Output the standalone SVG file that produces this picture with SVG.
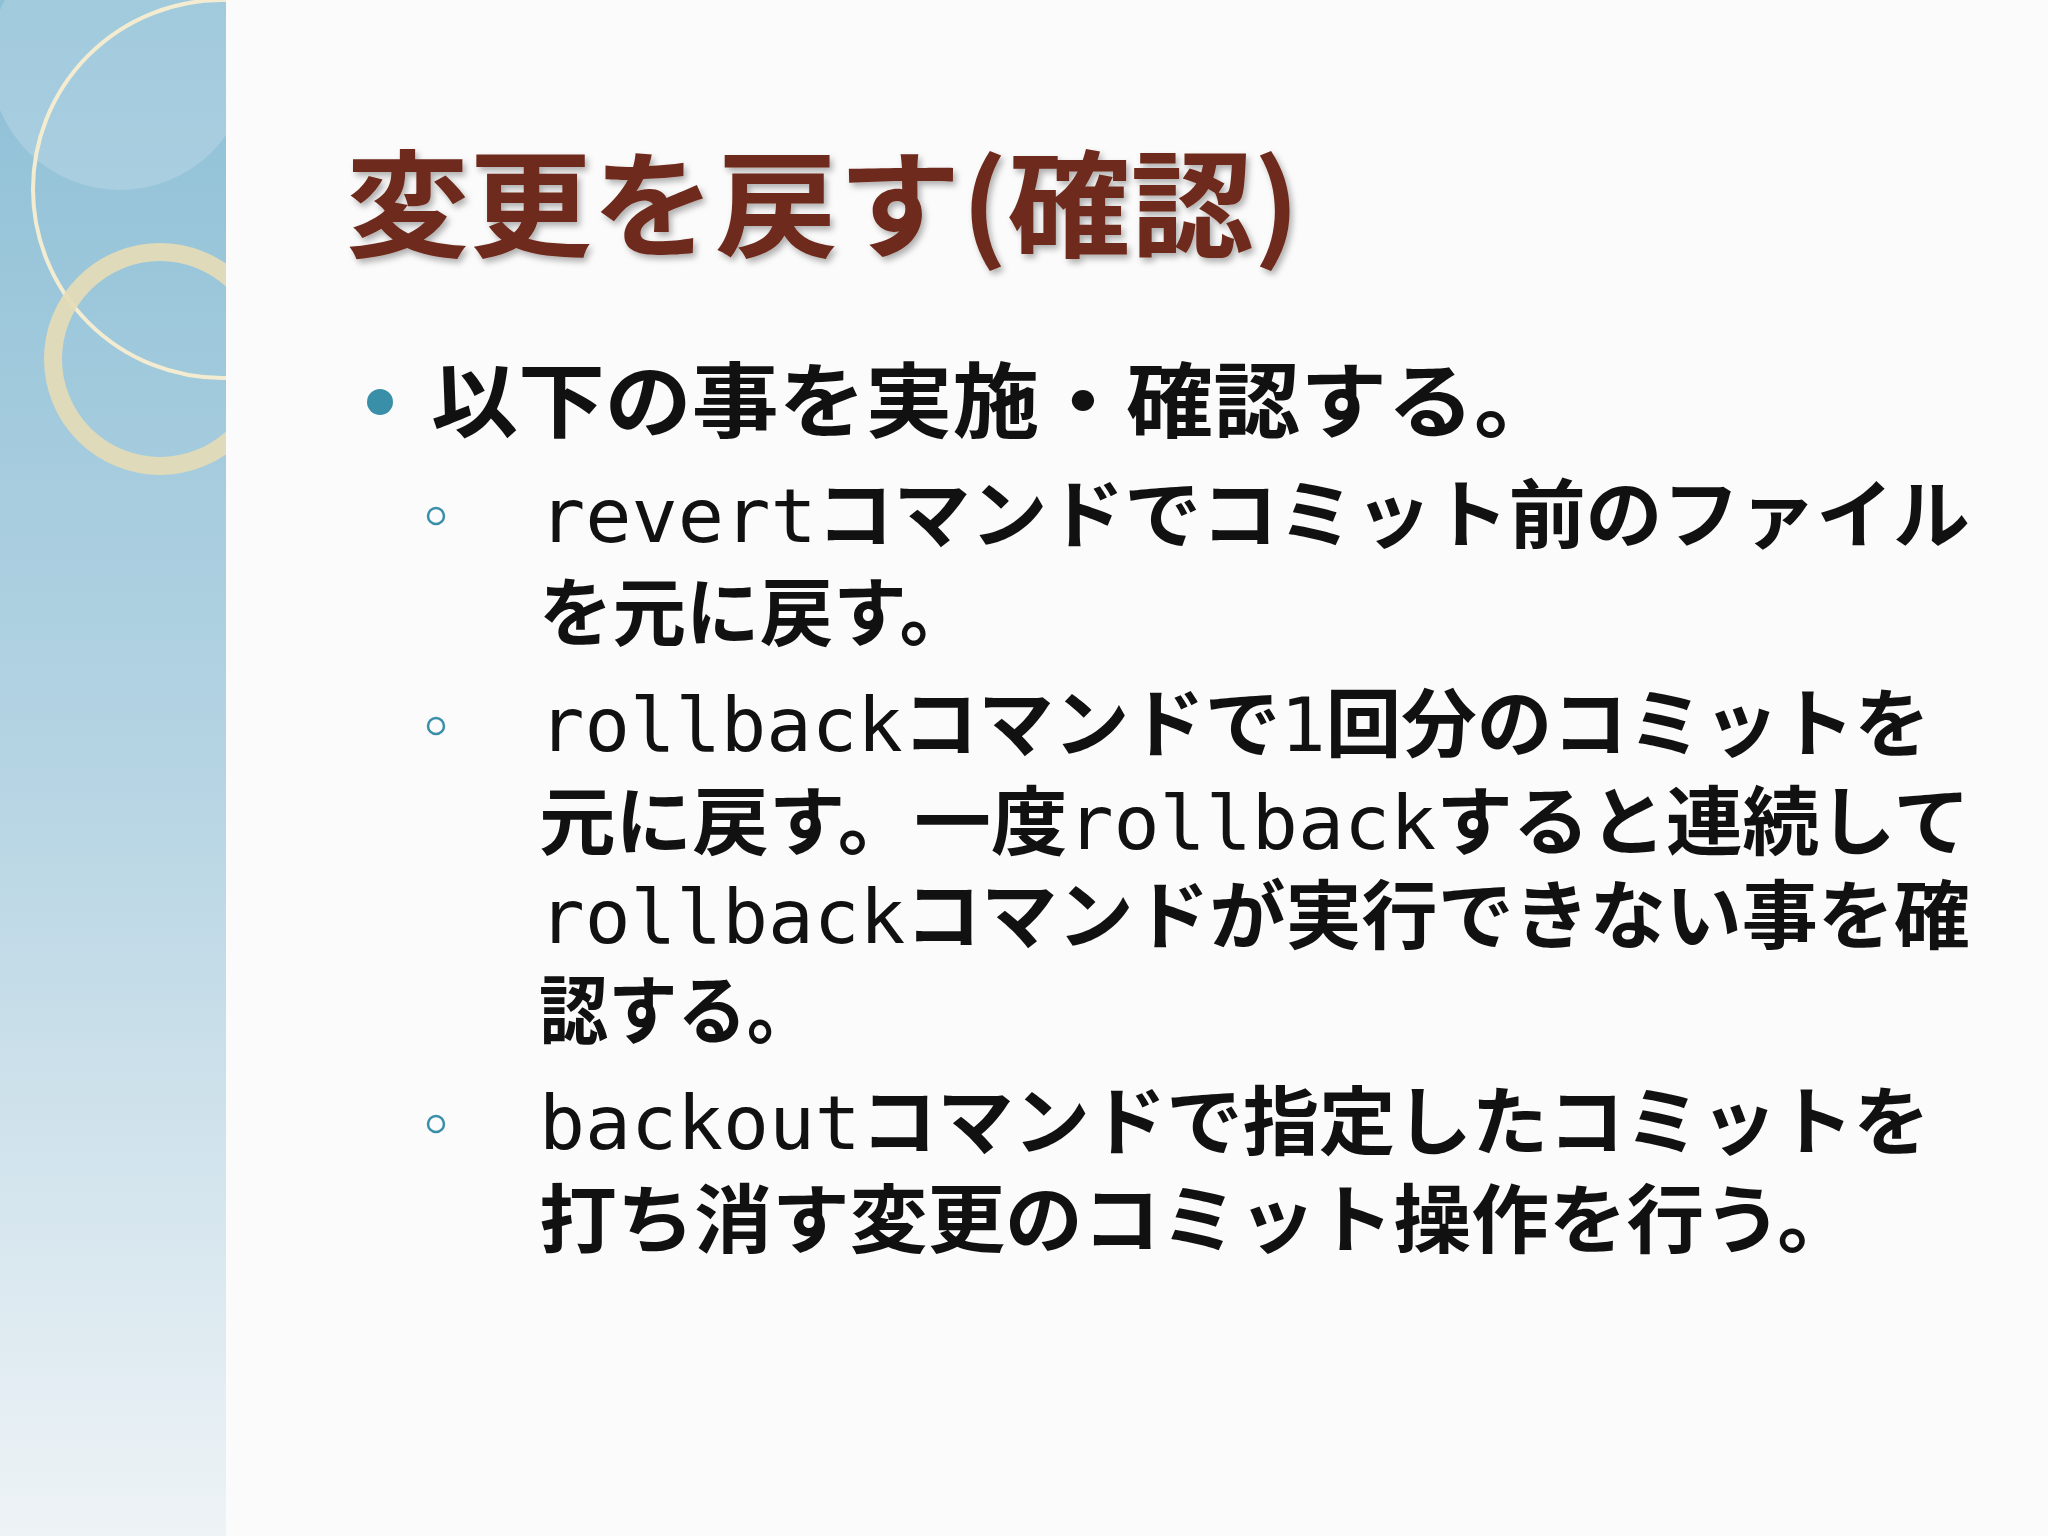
<svg xmlns="http://www.w3.org/2000/svg" width="2048" height="1536" viewBox="0 0 2048 1536">
<defs>
<linearGradient id="pg" x1="0" y1="0" x2="0" y2="1">
<stop offset="0" stop-color="#8dbfd6"/><stop offset="0.5" stop-color="#b5d4e3"/><stop offset="1" stop-color="#eef3f6"/>
</linearGradient>
<clipPath id="pc"><rect x="0" y="0" width="226" height="1536"/></clipPath>
<filter id="sh" x="-5%" y="-5%" width="110%" height="120%"><feDropShadow dx="3" dy="4" stdDeviation="3" flood-color="#000" flood-opacity="0.3"/></filter>
<style>
.t{font-family:"Noto Sans CJK JP",sans-serif;font-weight:bold;fill:#111}
.m{font-family:"DejaVu Sans Mono",monospace;font-weight:normal}
.sb{fill:none;stroke:#3a8fa8;stroke-width:2.5}
</style>
</defs>
<rect width="2048" height="1536" fill="#fbfbfb"/>
<g id="panel" clip-path="url(#pc)">
<rect width="226" height="1536" fill="url(#pg)"/>
<circle cx="120" cy="60" r="130" fill="#ffffff" opacity="0.18"/>
<circle cx="222" cy="189" r="189" fill="none" stroke="#f3ecd0" stroke-width="4"/>
<circle cx="160" cy="359" r="107" fill="none" stroke="#e6dcb6" stroke-width="18" opacity="0.9"/>
</g>
<g id="title"><text x="346" y="248" font-family="'Noto Sans CJK JP',sans-serif" font-weight="bold" font-size="116" fill="#6e2a1b" filter="url(#sh)" textLength="954" lengthAdjust="spacingAndGlyphs">変更を戻す(確認)</text></g>
<g id="main">
<circle cx="380" cy="402" r="13" fill="#3a8fa8"/>
<text class="t" x="431" y="431" font-size="82" textLength="1130" lengthAdjust="spacingAndGlyphs">以下の事を実施・確認する。</text>
</g>
<g id="sub" font-size="75">
<circle class="sb" cx="436" cy="516" r="8"/>
<circle class="sb" cx="436" cy="726" r="8"/>
<circle class="sb" cx="436" cy="1124" r="8"/>
<text class="t" x="539" y="542" textLength="1431" lengthAdjust="spacingAndGlyphs"><tspan class="m">revert</tspan>コマンドでコミット前のファイル</text>
<text class="t" x="539" y="640" textLength="434" lengthAdjust="spacingAndGlyphs">を元に戻す。</text>
<text class="t" x="539" y="751" textLength="1391" lengthAdjust="spacingAndGlyphs"><tspan class="m">rollback</tspan>コマンドで<tspan class="m">1</tspan>回分のコミットを</text>
<text class="t" x="539" y="849" textLength="1431" lengthAdjust="spacingAndGlyphs">元に戻す。一度<tspan class="m">rollback</tspan>すると連続して</text>
<text class="t" x="539" y="943" textLength="1431" lengthAdjust="spacingAndGlyphs"><tspan class="m">rollback</tspan>コマンドが実行できない事を確</text>
<text class="t" x="539" y="1038" textLength="277" lengthAdjust="spacingAndGlyphs">認する。</text>
<text class="t" x="539" y="1149" textLength="1391" lengthAdjust="spacingAndGlyphs"><tspan class="m">backout</tspan>コマンドで指定したコミットを</text>
<text class="t" x="539" y="1247" textLength="1316" lengthAdjust="spacingAndGlyphs">打ち消す変更のコミット操作を行う。</text>
</g>
<g id="connectors"/>
</svg>
